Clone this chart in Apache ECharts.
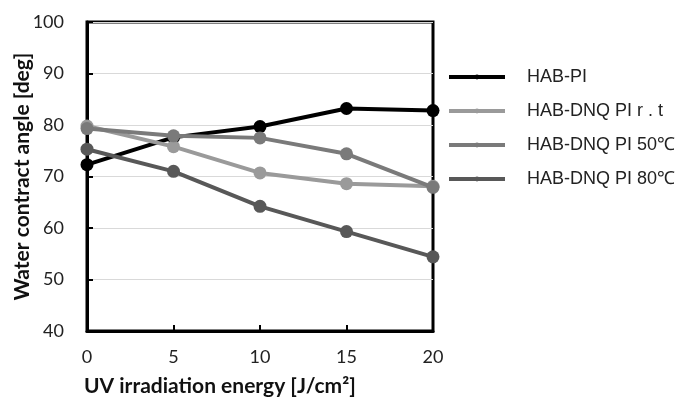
<!DOCTYPE html>
<html>
<head>
<meta charset="utf-8">
<script src="https://cdn.jsdelivr.net/npm/echarts@6/dist/echarts.min.js"></script>
<style>
  html, body { margin: 0; padding: 0; background: #fff; }
  #chart { width: 679px; height: 405px; }
</style>
</head>
<body>
<div id="chart"></div>
<script>
// UV irradiation energy [J/cm2]
const energy = [0, 5, 10, 15, 20];
const seriesNames = ['HAB-PI', 'HAB-DNQ PI r . t', 'HAB-DNQ PI 50℃', 'HAB-DNQ PI 80℃'];
const habPI = [72.3, 77.6, 79.7, 83.2, 82.8];
const dnqRT = [79.8, 75.8, 70.7, 68.6, 68.1];
const dnq50 = [79.3, 77.9, 77.5, 74.4, 67.9];
const dnq80 = [75.3, 71.0, 64.2, 59.3, 54.4];
const colors = ['#000000', '#9a9a9a', '#7a7a7a', '#585858'];

const chart = echarts.init(document.getElementById('chart'));

function mkSeries(name, vals, i) {
  return {
    name: name,
    type: 'line',
    data: energy.map((x, k) => [x, vals[k]]),
    symbol: 'circle',
    symbolSize: 13,
    lineStyle: { width: 4, color: colors[i] },
    itemStyle: { color: colors[i] },
    z: 3 + i,
  };
}

const option = {
  animation: false,
  grid: {
    left: 87, right: 246, top: 22, bottom: 74,
    outerBoundsMode: 'none',
    containLabel: false,
    show: true, borderColor: '#000', borderWidth: 3,
  },
  title: {
    text: 'UV irradiation energy [J/cm²]',
    left: 84, top: 376, padding: 0,
    textStyle: { fontFamily: 'Lato', fontSize: 21, fontWeight: 'bold', color: '#111' },
  },
  legend: {
    orient: 'vertical',
    left: 447, top: 68, padding: 0,
    itemWidth: 56, itemHeight: 6, itemGap: 16,
    data: seriesNames,
    lineStyle: { width: 4 },
    textStyle: { fontFamily: 'Liberation Sans, Arial, sans-serif', fontSize: 18, color: '#222', padding: [0, 0, 0, 17] },
  },
  xAxis: {
    type: 'value',
    min: 0, max: 20, interval: 5,
    axisLine: { show: true, lineStyle: { color: '#000', width: 3 } },
    axisTick: { show: true, inside: true, length: 6, lineStyle: { color: '#000', width: 2 } },
    axisLabel: { fontFamily: 'Lato', fontSize: 18, color: '#222', margin: 17 },
    splitLine: { show: false },
  },
  yAxis: {
    type: 'value',
    min: 40, max: 100, interval: 10,
    name: 'Water contract angle [deg]',
    nameLocation: 'middle',
    nameGap: 54,
    nameMoveOverlap: false,
    nameTextStyle: { fontFamily: 'Lato', fontSize: 21, fontWeight: 'bold', color: '#111' },
    axisLine: { show: true, lineStyle: { color: '#000', width: 3 } },
    axisTick: { show: true, inside: true, length: 6, lineStyle: { color: '#000', width: 2 } },
    axisLabel: { fontFamily: 'Lato', fontSize: 18, color: '#222', margin: 23 },
    splitLine: { show: true, lineStyle: { color: '#d9d9d9', width: 1 } },
  },
  series: [
    mkSeries(seriesNames[0], habPI, 0),
    mkSeries(seriesNames[1], dnqRT, 1),
    mkSeries(seriesNames[2], dnq50, 2),
    mkSeries(seriesNames[3], dnq80, 3),
  ],
};

chart.setOption(option);
</script>
</body>
</html>
